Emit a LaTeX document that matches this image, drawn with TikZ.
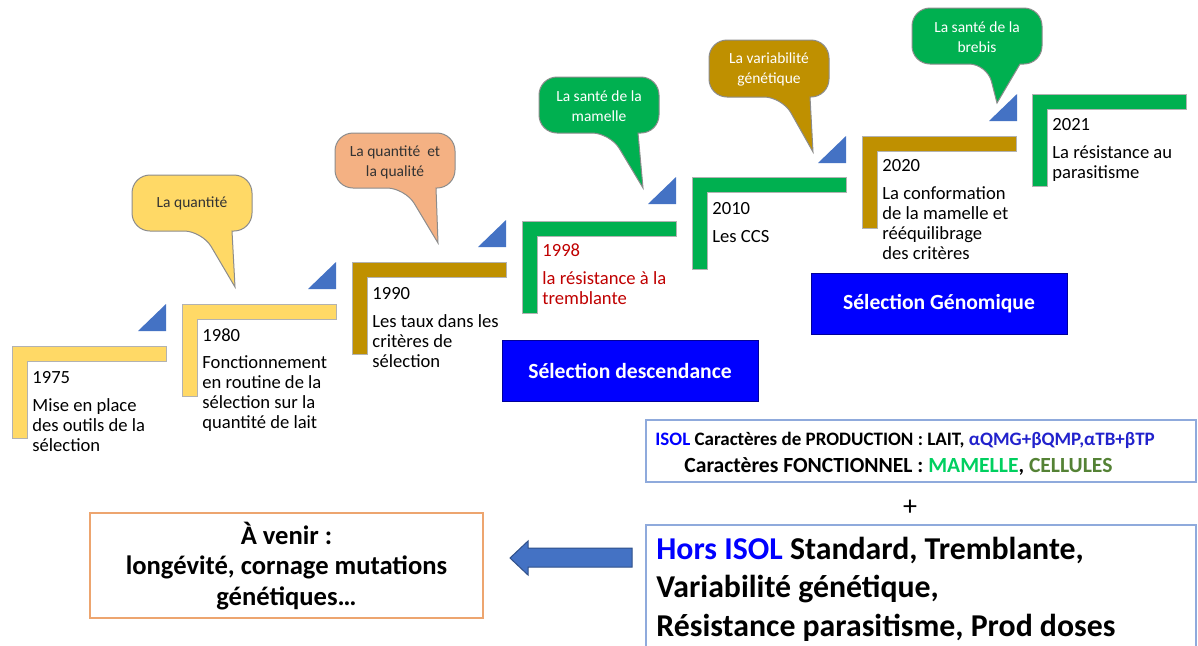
\documentclass[tikz,border=0pt]{standalone}
\usepackage{fontspec}
\setmainfont{Carlito}
\definecolor{stepyellow}{HTML}{FFD966}
\definecolor{stepgold}{HTML}{BF9000}
\definecolor{stepgreen}{HTML}{00B050}
\definecolor{salmon}{HTML}{F4B183}
\definecolor{triblue}{HTML}{4472C4}
\definecolor{purblue}{HTML}{0000FF}
\definecolor{darkred}{HTML}{C00000}
\definecolor{boxline}{HTML}{8FAADC}
\definecolor{navyblue}{HTML}{2222CC}
\definecolor{mamgreen}{HTML}{00D060}
\definecolor{celgreen}{HTML}{548235}
\definecolor{orangeline}{HTML}{EDA56F}
\tikzset{
  stepbar/.style={draw=black!30, line width=0.4pt},
  tri/.style={fill=triblue},
  yeartxt/.style={anchor=base west, inner sep=0pt, font=\fontsize{9.3}{10}\selectfont},
  desctxt/.style={anchor=base west, inner sep=0pt, align=left, font=\fontsize{9.3}{10}\selectfont},
  bubble/.style={draw=black!45, line width=0.5pt},
  bubtxt/.style={inner sep=0pt, align=center, font=\fontsize{7.75}{10}\selectfont},
  bluebox/.style={fill=purblue, draw=blue!60!black, line width=0.4pt, text=white,
     minimum width=128pt, minimum height=30.5pt, inner sep=0pt,
     font=\fontsize{10.8}{12}\selectfont\bfseries},
}
\begin{document}
\begin{tikzpicture}[x=0.5pt,y=-0.5pt]
\clip (0,0) rectangle (1198,645);
\fill[white] (0,0) rectangle (1198,645);

% steps
\foreach \x/\y/\c in {12/346/stepyellow, 182/304/stepyellow, 352/262/stepgold,
  522/221/stepgreen, 692/177/stepgreen, 862/136/stepgold, 1032/94/stepgreen}{
  \draw[stepbar, fill=\c] (\x,\y) -- ++(154,0) -- ++(0,15) -- ++(-139,0) -- ++(0,77.5) -- ++(-15,0) -- cycle;
}

% triangles
\foreach \x/\y in {166/304, 336/262, 506/220, 676/177, 846/136, 1017/94}{
  \fill[tri] (\x,\y) -- ++(0,27) -- ++(-28,0) -- cycle;
}

% step texts (base = baseline of last line)
\node[yeartxt] (y1975) at (32,383) {1975};
\node[desctxt] (d1975) at (32,451) {Mise en place\\des outils de la\\sélection};
\node[yeartxt] (y1980) at (202,341) {1980};
\node[desctxt] (d1980) at (202,428) {Fonctionnement\\en routine de la\\sélection sur la\\quantité de lait};
\node[yeartxt] (y1990) at (372,299) {1990};
\node[desctxt] (d1990) at (372,367) {Les taux dans les\\critères de\\sélection};
\node[yeartxt, text=darkred] (y1998) at (542,256) {1998};
\node[desctxt, text=darkred] (d1998) at (542,304) {la résistance à la\\tremblante};
\node[yeartxt] (y2010) at (712,214) {2010};
\node[desctxt] (d2010) at (712,242) {Les CCS};
\node[yeartxt] (y2020) at (882,171) {2020};
\node[desctxt] (d2020) at (882,259) {La conformation\\de la mamelle et\\rééquilibrage\\des critères};
\node[yeartxt] (y2021) at (1052,130) {2021};
\node[desctxt] (d2021) at (1052,178) {La résistance au\\parasitisme};

% bubbles
\draw[bubble, fill=stepyellow] (192,175) [rounded corners=9] -- (132,175) -- (132,231) -- (202,231) [sharp corners] -- (235,287) -- (232,231) [rounded corners=9] -- (252,231) -- (252,175) -- cycle;
\node[bubtxt, text=black!80] (b1) at (192,203) {La quantité};

\draw[bubble, fill=salmon] (395,133) [rounded corners=9] -- (335,133) -- (335,188) -- (405,188) [sharp corners] -- (438,243) -- (436,188) [rounded corners=9] -- (455,188) -- (455,133) -- cycle;
\node[bubtxt, text=black!80] (b2) at (395,162) {La quantité\ \ et\\la qualité};

\draw[bubble, fill=stepgreen] (599,77) [rounded corners=9] -- (539,77) -- (539,133) -- (610,133) [sharp corners] -- (643,188) -- (638,133) [rounded corners=9] -- (659,133) -- (659,77) -- cycle;
\node[bubtxt, text=white] (b3) at (599,106) {La santé de la\\mamelle};

\draw[bubble, fill=stepgold] (769,40) [rounded corners=9] -- (709,40) -- (709,97) -- (782,97) [sharp corners] -- (813,152) -- (810,97) [rounded corners=9] -- (829,97) -- (829,40) -- cycle;
\node[bubtxt, text=white] (b4) at (769,69) {La variabilité\\génétique};

\draw[bubble, fill=stepgreen] (977,8) [rounded corners=9] -- (912,8) -- (912,64) -- (987,64) [sharp corners] -- (997,103) -- (1020,64) [rounded corners=9] -- (1042,64) -- (1042,8) -- cycle;
\node[bubtxt, text=white] (b5) at (977,37) {La santé de la\\brebis};

% blue boxes
\node[bluebox] (desc) at (630,370.5) {Sélection descendance};
\node[bluebox] (geno) at (939,303.5) {Sélection Génomique};

% ISOL box
\draw[boxline, line width=0.8pt] (646,420) rectangle (1196,482);
\node[anchor=base west, inner sep=0pt, font=\fontsize{9.5}{10}\selectfont\bfseries] (isol1) at (655,445)
  {\textcolor{purblue}{ISOL} Caractères de PRODUCTION : LAIT, \textcolor{navyblue}{αQMG+βQMP,αTB+βTP}};
\node[anchor=base west, inner sep=0pt, font=\fontsize{10.8}{12}\selectfont\bfseries] (isol2) at (684,472)
  {Caractères FONCTIONNEL : \textcolor{mamgreen}{MAMELLE}, \textcolor{celgreen}{CELLULES}};

\node[inner sep=0pt, font=\fontsize{14}{16}\selectfont] (plus) at (910,508) {+};

% Hors ISOL box
\draw[boxline, line width=0.8pt] (646,525) rectangle (1196,670);
\node[anchor=base west, inner sep=0pt, align=left, font=\fontsize{15.9}{19.25}\selectfont\bfseries] (hors) at (656,636)
  {\textcolor{purblue}{Hors ISOL} Standard, Tremblante,\\Variabilité génétique,\\Résistance parasitisme, Prod doses};

% arrow
\draw[fill=triblue, draw=triblue!70!black, line width=0.5pt] (632,548) -- (528,548) -- (528,541) -- (510,558) -- (528,575) -- (528,567) -- (632,567) -- cycle;

% A venir box
\draw[orangeline, line width=0.6pt] (90,513) rectangle (483,618);
\node[anchor=base, inner sep=0pt, align=center, font=\fontsize{13.3}{15.2}\selectfont\bfseries] (avenir) at (286.5,605)
  {À venir :\\longévité, cornage mutations\\génétiques…};
\end{tikzpicture}
\end{document}
